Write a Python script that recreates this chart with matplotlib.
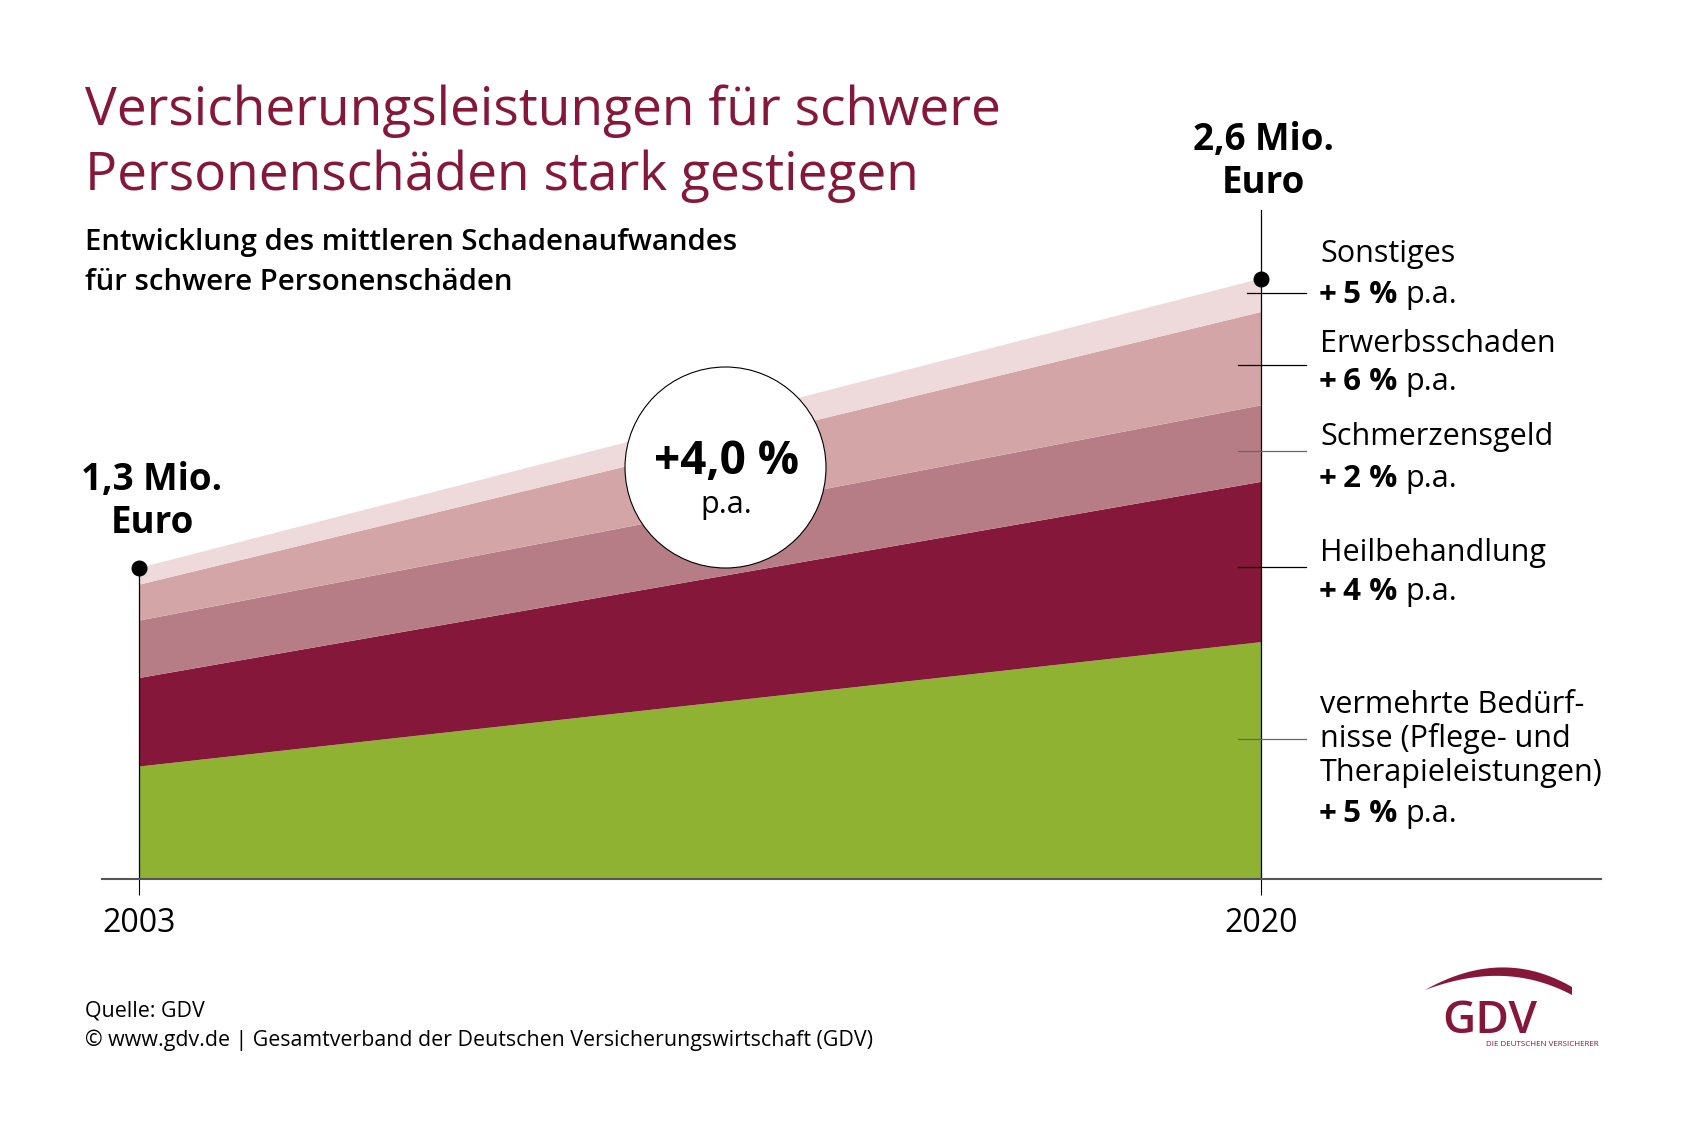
import matplotlib
matplotlib.use("Agg")
import matplotlib.pyplot as plt
import numpy as np
from matplotlib.patches import Circle, Polygon

W, H = 1685, 1132
plt.rcParams["font.family"] = ["Open Sans", "DejaVu Sans"]

# data (Mio. Euro)
years = [2003, 2020]
vermehrte = [0.47, 0.99]
heil = [0.37, 0.67]
schmerz = [0.24, 0.32]
erwerb = [0.15, 0.39]
sonstiges = [0.07, 0.14]
layer_colors = ["#90b232", "#85173a", "#b77d87", "#d3a5a7", "#eed9db"]

label_names = ["Sonstiges", "Erwerbsschaden", "Schmerzensgeld", "Heilbehandlung",
               "vermehrte Bedürf-\nnisse (Pflege- und\nTherapieleistungen)"]
label_rates = ["+\u20095 %", "+\u20096 %", "+\u20092 %", "+\u20094 %", "+\u20095 %"]
total_labels = ["1,3 Mio.\nEuro", "2,6 Mio.\nEuro"]
avg_growth = "+4,0 %"

RED = "#85173a"


def fx(x):
    return x / W


def fy(y):
    return 1 - y / H


def ftext(x, y, s, **kw):
    kw.setdefault("va", "baseline")
    return fig.text(fx(x), fy(y), s, **kw)


fig = plt.figure(figsize=(W / 100, H / 100), dpi=100)
fig.patch.set_facecolor("white")

# plot area: x 102..1601 px, baseline at 879 px, top at 200 px
px_per_mio = 311 / 1.3
ymax = (879 - 200) / px_per_mio
ax = fig.add_axes([fx(102), fy(879), (1601 - 102) / W, (879 - 200) / H])
yr_px = (1261 - 139) / (years[1] - years[0])
ax.set_xlim(years[0] - (139 - 102) / yr_px, years[1] + (1601 - 1261) / yr_px)
ax.set_ylim(0, ymax)

layers = [vermehrte, heil, schmerz, erwerb, sonstiges]
ax.stackplot(years, *layers, colors=layer_colors, linewidth=0)
totals = np.sum(layers, axis=0)

for s in ["top", "right", "left"]:
    ax.spines[s].set_visible(False)
ax.spines["bottom"].set_color("#555555")
ax.spines["bottom"].set_linewidth(1.5)
ax.spines["bottom"].set_zorder(5)
ax.set_yticks([])
ax.set_xticks(years)
ax.set_xticklabels([str(y) for y in years], fontsize=23)
ax.tick_params(axis="x", length=11.5, width=0.8, color="black", pad=9)

ax.plot([years[0], years[0]], [0, totals[0]], color="black", lw=0.9, clip_on=False, zorder=3)
ax.plot([years[1], years[1]], [0, (879 - 210) / px_per_mio], color="black", lw=0.9,
        clip_on=False, zorder=3)
ax.plot(years, totals, "o", color="black", ms=10.5, clip_on=False, zorder=4)

# title block
ftext(85, 125, "Versicherungsleistungen für schwere", fontsize=38.3, color=RED)
ftext(85, 190, "Personenschäden stark gestiegen", fontsize=38.3, color=RED)
ftext(85, 250, "Entwicklung des mittleren Schadenaufwandes", fontsize=21.2,
      fontweight="semibold")
ftext(85, 290, "für schwere Personenschäden", fontsize=21.2, fontweight="semibold")

# totals
for (x, b1), lab in zip([(152, 490), (1263, 150)], total_labels):
    l1, l2 = lab.split("\n")
    ftext(x, b1, l1, fontsize=26.5, fontweight="bold", ha="center")
    ftext(x, b1 + 43, l2, fontsize=26.5, fontweight="bold", ha="center")

# circle with average growth
fig.add_artist(Circle((725.5 / 100, (H - 467.5) / 100), 1.005, transform=fig.dpi_scale_trans,
                      facecolor="white", edgecolor="black", lw=0.8, zorder=5))
ftext(726, 474, avg_growth, fontsize=33, fontweight="bold", ha="center", zorder=6)
ftext(726, 513, "p.a.", fontsize=22, ha="center", zorder=6)

# right labels
leader_y = [293, 365, 451, 567, 739]
leader_x0 = [1247, 1238, 1238, 1238, 1238]
leader_col = ["black", "black", "#666666", "black", "#666666"]
name_base = [262, 352, 445, 561, 713]
rate_base = [303, 390, 487, 600, 822]
for i in range(5):
    fig.add_artist(plt.Line2D([fx(leader_x0[i]), fx(1306)], [fy(leader_y[i])] * 2,
                              color=leader_col[i], lw=0.9))
    for j, ln in enumerate(label_names[i].split("\n")):
        ftext(1320, name_base[i] + j * 34, ln, fontsize=22)
    ftext(1319, rate_base[i], label_rates[i], fontsize=22.5, fontweight="bold")
    ftext(1405, rate_base[i], "p.a.", fontsize=22)

# footer
ftext(85, 1016, "Quelle: GDV", fontsize=15.4)
ftext(85, 1046, "© www.gdv.de | Gesamtverband der Deutschen Versicherungswirtschaft (GDV)",
      fontsize=15.4)

# logo
t = np.linspace(0, 1, 40)
x_arc = 1425 + (1572 - 1425) * t
upper = 990 - 80 * t * (1 - t) * (1 + 0.1 * t) - 3 * t
lower = 990 - 52 * t * (1 - t) * (1 + 0.1 * t) - 3 * t + 8 * t ** 3
pts = np.vstack([np.column_stack([x_arc, upper]), np.column_stack([x_arc[::-1], lower[::-1]])])
fig.add_artist(Polygon(np.column_stack([fx(pts[:, 0]), fy(pts[:, 1])]), closed=True,
                       transform=fig.transFigure, facecolor=RED, edgecolor="none"))
ftext(1490, 1033, "GDV", fontsize=33, fontweight="semibold", color=RED, ha="center")
ftext(1542, 1046, "DIE DEUTSCHEN VERSICHERER", fontsize=5.8, color=RED, ha="center")

fig.savefig("out.png", dpi=100, facecolor="white")
